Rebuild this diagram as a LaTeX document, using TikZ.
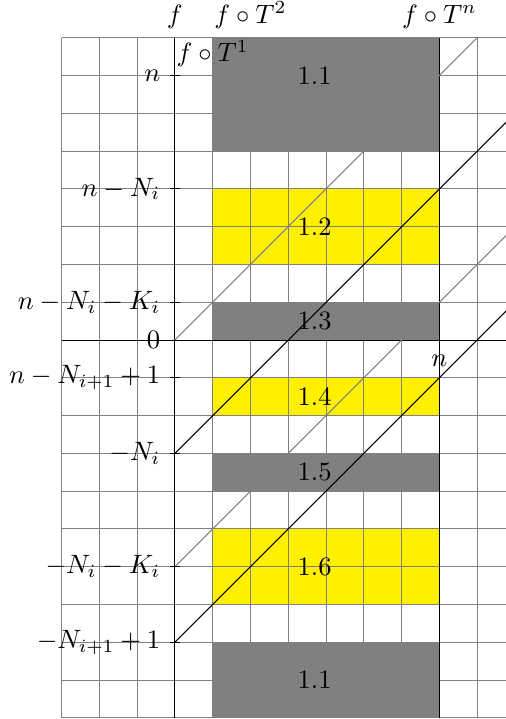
\documentclass[tikz,border=0pt]{standalone}
\definecolor{bandyellow}{RGB}{255,240,0}
\begin{document}
\begin{tikzpicture}[x=0.5cm,y=0.5cm,
  darkband/.style={fill=gray},
  lightband/.style={fill=bandyellow},
  gridlines/.style={gray, line width=0.4pt},
  axisline/.style={black, line width=0.4pt},
  diaggray/.style={gray, line width=0.4pt},
  diagblack/.style={black, line width=0.4pt},
  bandlabel/.style={anchor=west},
  ticklabel/.style={left}]
\useasboundingbox (-4.63,-10.03) rectangle (8.757,9.0);
\begin{scope}
\clip (-4.63,-10.03) rectangle (8.757,9.0);
% bands
\fill[darkband] (1,5) rectangle (7,8);
\fill[lightband] (1,2) rectangle (7,4);
\fill[darkband] (1,0) rectangle (7,1);
\fill[lightband] (1,-2) rectangle (7,-1);
\fill[darkband] (1,-4) rectangle (7,-3);
\fill[lightband] (1,-7) rectangle (7,-5);
\fill[darkband] (1,-10) rectangle (7,-8);
% grid
\draw[gridlines, step=0.5cm] (-3,-10) grid (9,8);
% axes
\coordinate (ya0) at (0,-10); \coordinate (ya1) at (0,8);
\coordinate (yn0) at (7,-10); \coordinate (yn1) at (7,8);
\coordinate (xa0) at (-3,0);  \coordinate (xa1) at (9,0);
\draw[axisline] (ya0) -- (ya1);
\draw[axisline] (yn0) -- (yn1);
\draw[axisline] (xa0) -- (xa1);
% diagonals
\coordinate (g1a) at (0,0);  \coordinate (g1b) at (8,8);
\coordinate (g2a) at (0,-6); \coordinate (g2b) at (9,3);
\coordinate (b1a) at (0,-3); \coordinate (b1b) at (9,6);
\coordinate (b2a) at (0,-8); \coordinate (b2b) at (9,1);
\draw[diaggray] (g1a) -- (g1b);
\draw[diaggray] (g2a) -- (g2b);
\draw[diagblack] (b1a) -- (b1b);
\draw[diagblack] (b2a) -- (b2b);
\end{scope}
% band labels
\node[bandlabel] (l11) at (3,7) {1.1};
\node[bandlabel] (l12) at (3,3) {1.2};
\node[bandlabel] (l13) at (3,0.5) {1.3};
\node[bandlabel] (l14) at (3,-1.5) {1.4};
\node[bandlabel] (l15) at (3,-3.5) {1.5};
\node[bandlabel] (l16) at (3,-6) {1.6};
\node[bandlabel] (l17) at (3,-9) {1.1};
% left ticks and labels
\draw (0,7) +(2pt,0) -- +(-2pt,0) node[ticklabel] (t1) {$n$};
\draw (0,4) +(2pt,0) -- +(-2pt,0) node[ticklabel] (t2) {$n-N_i$};
\draw (0,1) +(2pt,0) -- +(-2pt,0) node[ticklabel] (t3) {$n-N_i-K_i$};
\draw (0,0) +(2pt,0) -- +(-2pt,0) node[ticklabel] (t4) {$0$};
\draw (0,-1) +(2pt,0) -- +(-2pt,0) node[ticklabel] (t5) {$n-N_{i+1}+1$};
\draw (0,-3) +(2pt,0) -- +(-2pt,0) node[ticklabel] (t6) {$-N_i$};
\draw (0,-6) +(2pt,0) -- +(-2pt,0) node[ticklabel] (t7) {$-N_i-K_i$};
\draw (0,-8) +(2pt,0) -- +(-2pt,0) node[ticklabel] (t8) {$-N_{i+1}+1$};
% n on the horizontal axis
\draw (7,0) +(0,2pt) -- +(0,-2pt) node[below] (tn) {$n$};
% top labels
\node[above] (f0) at (0,8) {$f$};
\node[anchor=base] (f1) at (1,7.36) {$f\circ T^1$};
\node[above] (f2) at (2,8) {$f\circ T^2$};
\node[above] (fn) at (7,8) {$f\circ T^n$};
\end{tikzpicture}
\end{document}
